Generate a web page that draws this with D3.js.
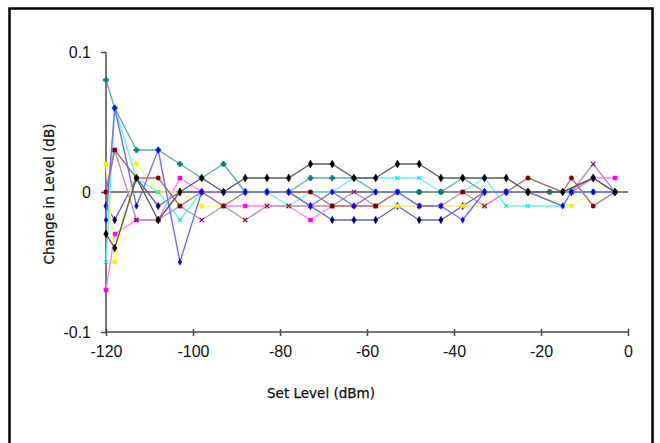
<!DOCTYPE html>
<html>
<head>
<meta charset="utf-8">
<script src="https://cdn.jsdelivr.net/npm/d3@7"></script>
<style>
  html, body { margin: 0; padding: 0; background: #fff; }
  svg { display: block; }
</style>
</head>
<body>
<svg id="chart" width="660" height="443"></svg>
<script>
// ---- data ----
const xValues = [-120,-118,-113,-108,-103,-98,-93,-88,-83,-78,-73,-68,-63,-58,-53,-48,-43,-38,-33,-28,-23,-18,-15,-13,-8,-3];
const navy    = [-0.01,-0.02,0.01,-0.01,0,0,0,0,0,0,-0.01,-0.02,-0.02,-0.02,-0.01,-0.02,-0.02,-0.01,0,0,0,null,null,0,0.01,0];
const magenta = [-0.07,-0.03,-0.02,-0.02,0.01,0,-0.01,-0.01,-0.01,-0.01,-0.02,-0.01,-0.01,-0.01,-0.01,-0.01,-0.01,-0.01,-0.01,0,0,0,null,0,0.01,0.01];
const yellow  = [0.02,-0.05,0.02,0,0,-0.01,-0.01,-0.02,-0.01,-0.01,-0.01,-0.01,-0.01,-0.01,-0.01,-0.01,-0.01,-0.01,-0.01,0,0,null,null,-0.01,0,0];
const cyan    = [-0.05,0.06,0.01,0,-0.02,0,0,0,0,-0.01,0,0,0.01,0.01,0.01,0.01,0,0,0.01,-0.01,-0.01,null,-0.01,0,0,0];
const purple  = [0,0.03,-0.02,-0.02,-0.01,-0.02,-0.01,-0.02,-0.01,-0.01,-0.01,-0.01,0,-0.01,0,-0.01,-0.01,0,-0.01,0,0,null,null,0,0.02,0];
const maroon  = [0,0.03,0.01,0.01,-0.01,0,-0.01,0,0,0,0,-0.01,-0.01,-0.01,0,0,0,0,0,0,0.01,null,0,0.01,-0.01,0];
const teal    = [0.08,0.06,0.03,0.03,0.02,0.01,0.02,0,0,0,0.01,0.01,0.01,0,0,0,0,0.01,0,0,0,0,null,0,0,0];
const blue    = [-0.02,0.06,-0.01,0.03,-0.05,0,0,0,0,0,-0.01,0,-0.01,0,0,-0.01,-0.01,-0.02,0,0,0,null,-0.01,0,0,0];
const black   = [-0.03,-0.04,0.01,-0.02,0,0.01,0,0.01,0.01,0.01,0.02,0.02,0.01,0.01,0.02,0.02,0.01,0.01,0.01,0.01,0,null,0,null,0.01,0];

const xTicks = [-120,-100,-80,-60,-40,-20,0];
const yTicks = [-0.1,0,0.1];
const xTitle = "Set Level (dBm)";
const yTitle = "Change in Level (dB)";

const seriesList = [
  {name:"navy",    values:navy,    color:"#000080", line:"#6464b0", shape:d3.symbolDiamond, size:16},
  {name:"magenta", values:magenta, color:"#ff00ff", line:"#ff80ff", shape:d3.symbolSquare,  size:16},
  {name:"yellow",  values:yellow,  color:"#f4f400", line:"#ffff80", shape:d3.symbolSquare,  size:16},
  {name:"cyan",    values:cyan,    color:"#00e8f0", line:"#70eef6", shape:d3.symbolTimes,   size:12},
  {name:"purple",  values:purple,  color:"#800080", line:"#b890c0", shape:d3.symbolTimes,   size:14},
  {name:"maroon",  values:maroon,  color:"#800000", line:"#b07070", shape:d3.symbolCircle,  size:16},
  {name:"teal",    values:teal,    color:"#008080", line:"#60aca6", shape:d3.symbolCross,   size:12},
  {name:"blue",    values:blue,    color:"#0000ff", line:"#7070ec", shape:d3.symbolDiamond, size:12},
  {name:"black",   values:black,   color:"#000000", line:"#5a5a5a", shape:d3.symbolDiamond, size:18}
];

// ---- layout ----
const svg = d3.select("#chart");
svg.append("rect").attr("x",9.5).attr("y",8.5).attr("width",643).attr("height",460)
  .attr("fill","#fff").attr("stroke","#000").attr("stroke-width",2.5);

const x = d3.scaleLinear().domain([-120,0]).range([106,628]);
const y = d3.scaleLinear().domain([-0.1,0.1]).range([332,52]);

const axisColor = "#4a4a4a";
const fmt = d => String(d);
// y axis
const yAxis = d3.axisLeft(y).tickValues(yTicks).tickSize(5).tickPadding(10).tickFormat(fmt);
const gy = svg.append("g").attr("transform","translate(106,0)").call(yAxis);
gy.select(".domain").attr("stroke",axisColor).attr("stroke-width",1.5).attr("d","M0,52V332");
gy.selectAll(".tick line").attr("stroke",axisColor).attr("stroke-width",1.5);
gy.selectAll(".tick text").attr("font-family","Liberation Sans, Arial, sans-serif").attr("font-size",16).attr("fill","#111");

// bottom x axis at -0.1
const xAxis = d3.axisBottom(x).tickValues(xTicks).tickSize(4).tickPadding(10).tickFormat(fmt);
const gx = svg.append("g").attr("transform",`translate(0,${y(-0.1)})`).call(xAxis);
gx.select(".domain").attr("stroke",axisColor).attr("stroke-width",1.5).attr("d","M106,0H628");
gx.selectAll(".tick line").attr("stroke",axisColor).attr("stroke-width",1.5).attr("y1",-3).attr("y2",4);
gx.selectAll(".tick text").attr("font-family","Liberation Sans, Arial, sans-serif").attr("font-size",16).attr("fill","#111");

// zero line
svg.append("line").attr("x1",x(-120)).attr("x2",x(0)).attr("y1",y(0)).attr("y2",y(0))
  .attr("stroke","#555").attr("stroke-width",1.6);

// titles
svg.append("text").attr("x",321).attr("y",398).attr("text-anchor","middle")
  .attr("font-family","DejaVu Sans, Verdana, sans-serif").attr("font-size",13.5)
  .attr("fill","#111").attr("stroke","#111").attr("stroke-width",0.25).text(xTitle);
svg.append("text").attr("transform","translate(54,194) rotate(-90)").attr("text-anchor","middle")
  .attr("font-family","DejaVu Sans, Verdana, sans-serif").attr("font-size",13.5)
  .attr("fill","#111").attr("stroke","#111").attr("stroke-width",0.25).text(yTitle);

// ---- series ----
const line = d3.line().x(d => x(d.x)).y(d => y(d.v));
seriesList.forEach(s => {
  const pts = xValues.map((xv,i) => ({x:xv, v:s.values[i]})).filter(d => d.v !== null);
  const g = svg.append("g").attr("class","series-"+s.name);
  g.append("path").datum(pts).attr("d",line).attr("fill","none")
    .attr("stroke",s.line).attr("stroke-width",1.4).attr("stroke-linejoin","round");
  const sym = d3.symbol().type(s.shape).size(s.size);
  g.selectAll("path.m").data(pts).join("path").attr("class","m")
    .attr("transform",d => `translate(${x(d.x)},${y(d.v)})`)
    .attr("d",sym())
    .attr("fill",s.color)
    .attr("stroke",s.color)
    .attr("stroke-width",(s.shape===d3.symbolTimes||s.shape===d3.symbolCross)?1.1:0.5);
});
</script>
</body>
</html>
